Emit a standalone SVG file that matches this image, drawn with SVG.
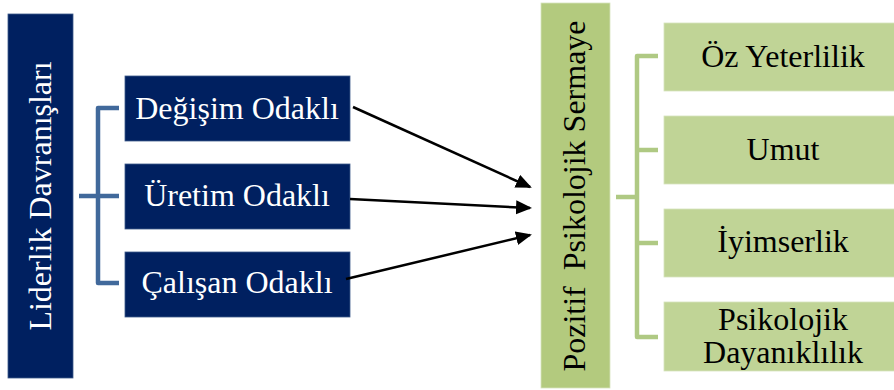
<svg xmlns="http://www.w3.org/2000/svg" width="894" height="390" viewBox="0 0 894 390">
<style>
.navy{fill:#002060;stroke:#3d5a8a;stroke-width:0.8}
.gtall{fill:#b3ca7e;stroke:#d6e3bd;stroke-width:0.8}
.gbox{fill:#c0d496;stroke:#d6e3bd;stroke-width:0.8}
text{font-family:"Times New Roman","Liberation Serif","DejaVu Serif",serif;font-size:32px;text-anchor:middle}
.wt{fill:#ffffff}
.bt{fill:#000000}
.bbr{fill:none;stroke:#41699b;stroke-width:4.5;stroke-linejoin:round}
.gbr{fill:none;stroke:#afc983;stroke-width:4.5;stroke-linejoin:round}
.arr{fill:none;stroke:#000000;stroke-width:2.5}
</style>
<defs>
<marker id="ah" markerUnits="userSpaceOnUse" markerWidth="18" markerHeight="16" refX="14" refY="7" orient="auto">
<path d="M0,0 L16,7 L0,14 z" fill="#000000"/>
</marker>
</defs>
<g id="liderlik">
<rect class="navy" x="8" y="14" width="65" height="364"/>
<text class="wt" transform="translate(51,196) rotate(-90)">Liderlik Davranışları</text>
</g>
<g id="degisim">
<rect class="navy" x="125" y="76" width="225" height="65"/>
<text class="wt" x="237" y="119">Değişim Odaklı</text>
</g>
<g id="uretim">
<rect class="navy" x="125" y="164" width="225" height="65"/>
<text class="wt" x="237" y="206">Üretim Odaklı</text>
</g>
<g id="calisan">
<rect class="navy" x="125" y="252" width="225" height="65"/>
<text class="wt" x="237" y="293">Çalışan Odaklı</text>
</g>
<g id="pozitif">
<rect class="gtall" x="541" y="3" width="69" height="385"/>
<text class="bt" transform="translate(585,196) rotate(-90)" xml:space="preserve">Pozitif  Psikolojik Sermaye</text>
</g>
<g id="oz">
<rect class="gbox" x="664" y="23" width="234" height="68"/>
<text class="bt" x="783" y="67">Öz Yeterlilik</text>
</g>
<g id="umut">
<rect class="gbox" x="664" y="116" width="234" height="68"/>
<text class="bt" x="783" y="160">Umut</text>
</g>
<g id="iyimserlik">
<rect class="gbox" x="664" y="209" width="234" height="68"/>
<text class="bt" x="783" y="252">İyimserlik</text>
</g>
<g id="dayaniklilik">
<rect class="gbox" x="664" y="302" width="234" height="69"/>
<text class="bt" x="783" y="330">Psikolojik</text>
<text class="bt" x="783" y="363">Dayanıklılık</text>
</g>
<g id="connectors">
<path class="bbr" d="M119,108 H98 V283 H119 M79,196 H119"/>
<path class="gbr" d="M658,56 H637 V337 H658 M637,150 H658 M637,243 H658 M616,197 H637"/>
<line class="arr" x1="353" y1="107" x2="530" y2="187" marker-end="url(#ah)"/>
<line class="arr" x1="350" y1="199" x2="530" y2="208" marker-end="url(#ah)"/>
<line class="arr" x1="346" y1="279" x2="530" y2="235" marker-end="url(#ah)"/>
</g>
</svg>
